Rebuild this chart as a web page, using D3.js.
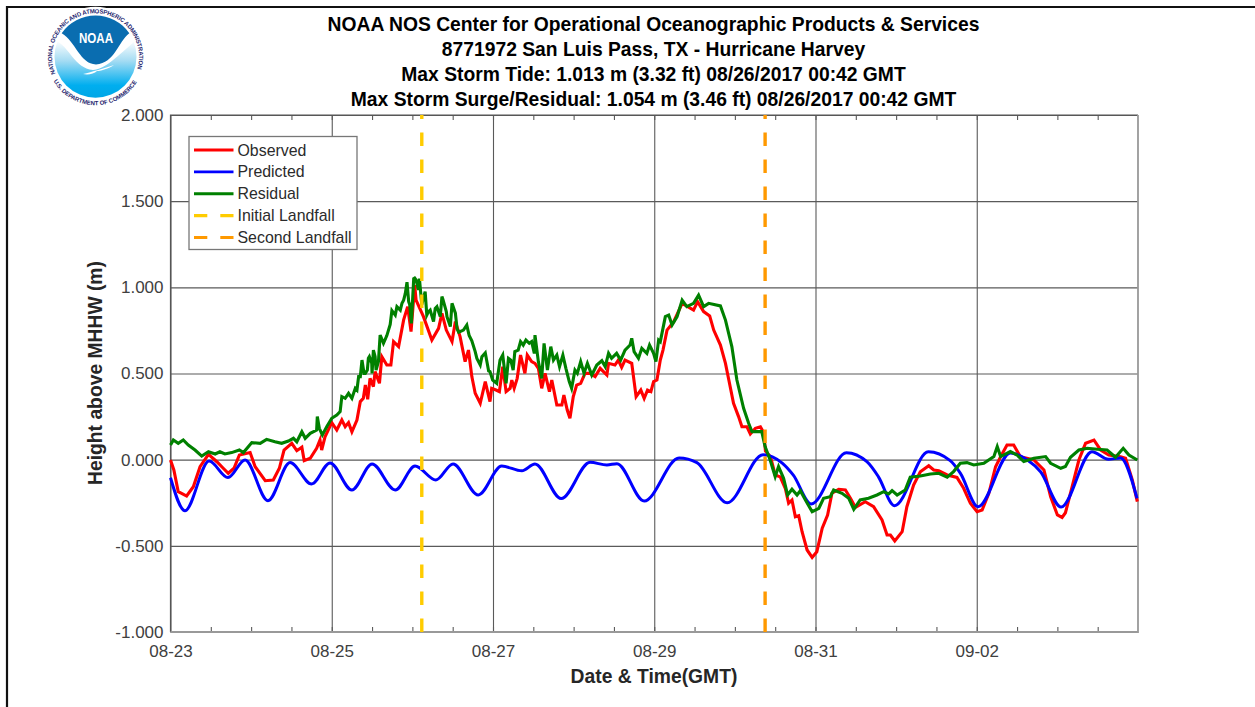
<!DOCTYPE html>
<html lang="en">
<head>
    <meta charset="UTF-8">
    <title>San Luis Pass - Hurricane Harvey</title>
    <script src="https://d3js.org/d3.v7.min.js"></script>
    <style>
        body { margin: 0; background: #fff; }
        text { font-family: "Liberation Sans", Arial, sans-serif; }
    </style>
</head>
<body>
<script>
    // [hours since 08-23 00:00 GMT, metres above MHHW]
    const observed = [
        [0,-.002],[1,-.06],[2.3,-.186],[3.3,-.195],[4.8,-.211],[6.8,-.157],[8.8,-.041],[11.3,.031],[13.8,-.012],[15.7,-.05],
        [17.2,-.079],[18.9,-.05],[20.5,.027],[23.7,.041],[25.2,-.041],[28.2,-.122],[30.6,-.118],[32.4,-.05],[33.8,.056],[36.1,.095],
        [37.6,.052],[39.1,.072],[39.8,-.006],[41.6,.008],[43.5,.066],[44.5,.114],[45,.056],[46,.133],[48,.215],[49.5,.172],
        [51,.23],[52,.191],[53,.215],[54,.162],[55.5,.23],[56.5,.337],[57.4,.356],[58,.433],[58.7,.35],[59.4,.472],
        [60.4,.424],[60.9,.511],[62.2,.443],[62.9,.598],[64.4,.549],[65.6,.549],[66.4,.685],[67.9,.656],[69.4,.811],[70.6,.888],
        [71.6,.743],[72.7,1.013],[73.1,.926],[75.3,.83],[77.8,.694],[79.8,.762],[80.8,.849],[82.1,.752],[83.8,.685],[84.8,.801],
        [86.2,.714],[87.7,.569],[88.7,.636],[89.7,.482],[90.7,.385],[92.2,.327],[93.7,.453],[95.1,.337],[95.6,.414],[96.9,.404],
        [97.9,.395],[98.9,.54],[99.9,.395],[101.1,.414],[101.6,.462],[102.3,.414],[103.2,.472],[104.2,.607],[105.5,.501],[106.2,.607],
        [107.5,.569],[108.5,.559],[109.5,.53],[110.5,.414],[111.5,.501],[112.8,.395],[113.5,.462],[115,.317],[116.5,.317],[117.1,.375],
        [118.1,.288],[118.9,.24],[119.9,.366],[120.9,.433],[122.1,.443],[123.4,.501],[124.9,.501],[126.4,.482],[127.9,.53],[129.9,.491],
        [130.4,.559],[132.3,.549],[133.3,.578],[134.3,.536],[135.3,.578],[137.3,.559],[138.6,.366],[140,.404],[141,.356],[142,.404],
        [143,.395],[143.8,.453],[144.8,.462],[145.8,.578],[146.6,.636],[147.8,.752],[149.8,.801],
        [152.3,.907],[155.7,.868],[156.9,.917],[158.7,.859],[160.5,.834],[161.7,.752],[163.7,.665],[165.2,.559],[166.2,.462],[167.6,.327],
        [169.1,.25],[170.1,.191],[171.6,.191],[172.6,.149],[174.1,.182],[175.6,.191],[176.6,.157],[177.1,.05],[178.6,.017],[180,-.089],
        [181.5,-.1],[183,-.166],[184,-.253],[185,-.234],[186,-.331],[187,-.325],[188,-.418],[189.5,-.524],[191,-.567],[192.4,-.534],
        [194,-.398],[195.6,-.321],[196.9,-.195],[198.9,-.172],[200.9,-.176],[202.4,-.224],[203.9,-.277],[206.8,-.244],[209.3,-.273],[211.8,-.35],
        [213.3,-.437],[214.3,-.437],[215.6,-.472],[217.8,-.418],[219.2,-.273],[221.2,-.147],[223.2,-.07],[225.7,-.035],[227.2,-.06],[228.7,-.064],
        [231.2,-.089],[234.1,-.103],[236.1,-.166],[238.1,-.253],[240.1,-.302],[241.6,-.292],[243.6,-.195],[245.6,-.041],[247.1,.017],[249,.085],
        [251,.085],[253,.017],[257,-.002],[260,-.06],[262,-.215],[264,-.321],[265.4,-.335],[266.4,-.308],[268.4,-.157],[270.4,-.002],
        [272.4,.095],[274.9,.114],[276.9,.056],[279.3,.027],[282.8,.017],[284.3,.008],[286.3,-.118],[287.8,-.244]
    ];

    const predicted = [
        [0,-.105],[4.3,-.296],[11.5,-.008],[17.1,-.104],[22.2,-.002],[29,-.238],[35.6,-.017],[42,-.141],[47.5,-.019],[54,-.176],
        [60,-.025],[66.9,-.176],[72.8,-.037],[79,-.118],[84.1,-.025],[91.6,-.205],[98.6,-.037],[104.6,-.065],[108.5,-.025],[116.3,-.226],
        [124.9,-.015],[129.9,-.031],[132.9,-.023],[141,-.24],[151.4,.01],[156.7,-.017],[165.7,-.25],[176.4,.029],[182.1,-.02],[185.4,-.09],
        [190.7,-.257],[201.2,.04],[207.3,-.012],[210.7,-.098],[215.5,-.267],[225.6,.046],[232.1,-.006],[235.1,-.078],[240.4,-.273],[250,.039],
        [255.1,-.002],[259,-.07],[265.1,-.275],[274.3,.046],[279.2,.002],[282.8,.01],[287.7,-.224]
    ];

    const residual = [
        [0,.085],[.85,.114],[2.3,.095],[3.8,.114],[5.3,.085],[7.3,.056],[9.3,.021],[11.3,.046],[13.3,.033],[14.7,.046],
        [16.2,.033],[18.2,.041],[20.5,.056],[21.7,.041],[24.2,.099],[26.7,.095],[28.6,.118],[31.1,.104],[33.1,.095],[35.1,.108],
        [36.6,.124],[37.6,.104],[39.1,.162],[40.1,.124],[41.6,.153],[43.5,.172],[43.7,.25],[44.3,.182],[45.2,.143],[46.5,.191],
        [48,.24],[49.5,.259],[50.5,.279],[51,.366],[52,.356],[53,.385],[54,.356],[55,.414],[55.5,.404],[56,.482],
        [56.5,.482],[57,.578],[57.6,.501],[58,.501],[58.6,.52],[58.9,.588],[59.2,.598],[59.9,.56],[60,.501],[60.4,.636],
        [60.9,.598],[61.2,.52],[61.9,.569],[62.4,.723],[62.6,.714],[63.4,.675],[64.4,.72],[65.4,.785],[65.9,.865],[66.9,.839],
        [67.4,.888],[68.4,.868],[68.9,.907],[69.4,.926],[69.9,.965],[70.4,1.03],[70.9,.917],[71.2,.9],[71.7,.791],[72.4,1.05],
        [72.7,1.054],[73.1,1.043],[73.8,.985],[74.1,1.05],[74.8,.9],[75.8,.975],[76.3,.839],[76.8,.859],[77.3,.868],[78.3,.801],
        [78.8,.878],[79.3,.888],[80.3,.83],[80.8,.946],[81.1,.93],[82.1,.859],[82.3,.83],[83.3,.772],[83.8,.907],[84.8,.85],
        [85.3,.76],[85.8,.74],[87.2,.752],[88.2,.781],[88.9,.72],[89.7,.69],[90.7,.627],[91.2,.588],[92.2,.55],[92.7,.598],
        [93.7,.62],[94.7,.515],[95.1,.511],[95.9,.462],[97.1,.443],[98.1,.578],[98.9,.607],[99.9,.443],[100.6,.588],[101.3,.578],
        [102,.52],[102.5,.627],[103.5,.636],[104.2,.685],[105,.665],[105.8,.694],[106.8,.675],[107.5,.685],[108.3,.617],[108.5,.723],
        [109.5,.569],[110.5,.472],[111.2,.675],[112.2,.52],[113.2,.656],[114,.578],[115,.607],[115.8,.54],[116.8,.607],[117.7,.53],
        [118.7,.453],[119.4,.414],[120.4,.52],[121.1,.501],[122.1,.569],[123.1,.501],[124.1,.559],[125.4,.491],[126.9,.549],[128.4,.574],
        [129.4,.54],[130.4,.617],[131.3,.588],[132.8,.617],[134,.578],[135.3,.636],[136.8,.665],[137.3,.704],[138,.627],[139.3,.588],
        [140.3,.646],[141.8,.617],[142.6,.665],[143.8,.617],[144.5,.569],[145.3,.694],[145.8,.685],
        [147.3,.83],[148.3,.839],[149.3,.781],[150.8,.83],[152.3,.926],[153.7,.888],[155.7,.907],[157.2,.955],[158.7,.888],[160.2,.907],
        [163.7,.892],[165.2,.81],[167.1,.656],[168.6,.462],[170.6,.298],[172.1,.211],[173.1,.162],[174.1,.163],[176,.163],[177,.076],
        [178.5,-.002],[180,-.098],[181,-.04],[182.5,-.108],[183.7,-.205],[185,-.172],[186.5,-.205],[187.5,-.18],[189,-.234],[191,-.302],
        [193,-.282],[194.4,-.224],[196.4,-.215],[197.4,-.176],[199.9,-.195],[201.9,-.224],[203.4,-.288],[205.3,-.234],[207.8,-.224],[210.3,-.205],
        [212.3,-.186],[213.8,-.199],[214.8,-.18],[216.3,-.205],[218.7,-.176],[220.2,-.102],[223.2,-.095],[226.2,-.083],[228.7,-.079],[231.2,-.102],
        [233.1,-.069],[235.1,-.021],[237.1,-.017],[239.1,-.031],[242.1,-.021],[245.1,.018],[246.1,.076],[247.1,.018],[250,.047],[252,.027],
        [254,-.011],[257,.008],[260.5,.018],[262,-.021],[265,-.05],[266.4,-.04],[267.9,.014],[270.4,.056],[272.9,.066],[275.9,.06],
        [278.8,.056],[281.3,.014],[283.6,.066],[285.3,.027],[287.8,-.002]
    ];

    const landfallHours = [74.8, 177];
    const legendLabels = ["Observed", "Predicted", "Residual", "Initial Landfall", "Second Landfall"];
    const yTicks = [-1, -.5, 0, .5, 1, 1.5, 2];
    const xMajorHours = [0, 48, 96, 144, 192, 240];
    const xMinorHours = d3.range(12, 288, 12);
    const titleLines = [
        "NOAA NOS Center for Operational Oceanographic Products & Services",
        "8771972 San Luis Pass, TX - Hurricane Harvey",
        "Max Storm Tide: 1.013 m (3.32 ft) 08/26/2017 00:42 GMT",
        "Max Storm Surge/Residual: 1.054 m (3.46 ft) 08/26/2017 00:42 GMT"
    ];

    const width  = 1255;
    const height = 707;
    const plotL = 170.5, plotR = 1138, plotT = 115, plotB = 632;

    const start = Date.UTC(2017, 7, 23);
    const toDate = h => new Date(start + h * 3600000);

    const colors = ["#ff0000", "#0000ff", "#008000", "#ffcc00", "#ff9900"];

    const scaleX = d3.scaleUtc().domain([toDate(0), toDate(288)]).range([plotL, plotR]);
    const scaleY = d3.scaleLinear().domain([-1, 2]).range([plotB, plotT]);

    const svg = d3.select("body").append("svg").attr("width", width).attr("height", height)
        .style("display", "block");

    // outer figure edge
    svg.append("path").attr("d", "M7,707V7H1255").attr("fill", "none").attr("stroke", "#111").attr("stroke-width", 2.2);

    // grid and tick labels come from the axes
    const yAxis = d3.axisLeft(scaleY).tickValues(yTicks).tickFormat(d => d3.format(".3f")(d).replace("\u2212", "-"))
        .tickSize(-(plotR - plotL)).tickPadding(7);
    const xAxis = d3.axisBottom(scaleX).tickValues(xMajorHours.map(toDate)).tickFormat(d3.utcFormat("%m-%d"))
        .tickSize(-(plotB - plotT)).tickPadding(13);
    const xMinorB = d3.axisBottom(scaleX).tickValues(xMinorHours.map(toDate)).tickFormat(() => "").tickSize(-5);
    const xMinorT = d3.axisTop(scaleX).tickValues(xMinorHours.map(toDate)).tickFormat(() => "").tickSize(-5);

    const axes = [
        svg.append("g").attr("transform", "translate(" + [plotL, 0] + ")").call(yAxis),
        svg.append("g").attr("transform", "translate(" + [0, plotB] + ")").call(xAxis),
        svg.append("g").attr("transform", "translate(" + [0, plotB] + ")").call(xMinorB),
        svg.append("g").attr("transform", "translate(" + [0, plotT] + ")").call(xMinorT)
    ];
    axes.forEach(g => {
        g.select(".domain").remove();
        g.selectAll("line").attr("stroke", "#5a5a5a").attr("stroke-width", 1.1);
        g.selectAll("text").attr("fill", "#404040").style("font-size", "17px").style("font-family", '"Liberation Sans", Arial, sans-serif');
    });

    // plot box: dark on top and left, lighter and thicker on bottom and right
    svg.append("path").attr("d", `M${plotL},${plotB}V${plotT}H${plotR}`).attr("fill", "none").attr("stroke", "#555").attr("stroke-width", 1.2);
    svg.append("path").attr("d", `M${plotL},${plotB}H${plotR}V${plotT}`).attr("fill", "none").attr("stroke", "#999").attr("stroke-width", 1.8);

    const line = d3.line().x(d => scaleX(toDate(d[0]))).y(d => scaleY(d[1]));
    const smooth = d3.line().curve(d3.curveMonotoneX).x(d => scaleX(toDate(d[0]))).y(d => scaleY(d[1]));

    const plot = svg.append("g");
    plot.append("path").attr("d", line(observed)).attr("fill", "none").attr("stroke", colors[0]).attr("stroke-width", 3.1);
    plot.append("path").attr("d", smooth(predicted)).attr("fill", "none").attr("stroke", colors[1]).attr("stroke-width", 3);
    plot.append("path").attr("d", line(residual)).attr("fill", "none").attr("stroke", colors[2]).attr("stroke-width", 3.1);

    // landfall lines, dash pattern starts from the bottom
    landfallHours.forEach((h, i) => {
        plot.append("line")
            .attr("x1", scaleX(toDate(h))).attr("x2", scaleX(toDate(h)))
            .attr("y1", scaleY(-1)).attr("y2", scaleY(2))
            .attr("stroke", colors[3 + i]).attr("stroke-width", 3.4).attr("stroke-dasharray", "13.5 13.5");
    });

    // legend
    const legend = svg.append("g");
    legend.append("rect").attr("x", 189).attr("y", 136.5).attr("width", 168).attr("height", 113)
        .attr("fill", "#fff").attr("stroke", "#777").attr("stroke-width", 1.3);
    const legendY = d3.scalePoint().domain(legendLabels).range([150, 237.5]);
    legendLabels.forEach((name, i) => {
        legend.append("line").attr("x1", 194).attr("x2", 233.5).attr("y1", legendY(name)).attr("y2", legendY(name))
            .attr("stroke", colors[i]).attr("stroke-width", i > 2 ? 3.2 : 2.8)
            .attr("stroke-dasharray", i > 2 ? "13.3 13" : null);
        legend.append("text").attr("x", 237.5).attr("y", legendY(name)).attr("dy", ".35em")
            .attr("fill", "#2b2b2b").style("font-size", "15.9px").text(name);
    });

    // titles
    const titleY = [31, 56, 81, 105.5];
    titleLines.forEach((t, i) => {
        svg.append("text").attr("x", 653.5).attr("y", titleY[i]).attr("text-anchor", "middle")
            .attr("fill", "#000").style("font-size", "19.3px").style("font-weight", "bold").text(t);
    });
    svg.append("text").attr("x", 654).attr("y", 683).attr("text-anchor", "middle")
        .attr("fill", "#262626").style("font-size", "19.3px").style("font-weight", "bold").text("Date & Time(GMT)");
    svg.append("text").attr("transform", "translate(102,373) rotate(-90)").attr("text-anchor", "middle")
        .attr("fill", "#262626").style("font-size", "19.3px").style("font-weight", "bold").text("Height above MHHW (m)");

    // NOAA seal
    const cx = 95.5, cy = 56.7;
    const defs = svg.append("defs");
    const sky = defs.append("linearGradient").attr("id", "sky").attr("x1", 0).attr("x2", 0).attr("y1", 0).attr("y2", 1);
    sky.append("stop").attr("offset", "0.3").attr("stop-color", "#ffffff");
    sky.append("stop").attr("offset", "0.55").attr("stop-color", "#a5dcf3");
    sky.append("stop").attr("offset", "0.85").attr("stop-color", "#00aeef");
    sky.append("stop").attr("offset", "1").attr("stop-color", "#00a6e6");

    const seal = svg.append("g");
    seal.append("circle").attr("cx", cx).attr("cy", cy).attr("r", 50).attr("fill", "#fff");
    seal.append("circle").attr("cx", cx).attr("cy", cy).attr("r", 41).attr("fill", "url(#sky)");
    // white wings and tail
    seal.append("path").attr("fill", "#fff")
        .attr("d", "M55,40 C70,47 74,68 93,70 C104,70 118,56 136,40 L132,33 L60,33 Z");
    seal.append("path").attr("fill", "#fff")
        .attr("d", "M83,74 C92,72 104,68 114,65 C108,69 100,71 97,71 C94,74 88,75 83,74 Z");
    seal.append("path").attr("fill", "#0a6db0")
        .attr("d", "M61.7,33.3 A41,41 0 0 1 129.3,33.3 C118,42 115,63 96,64.5 C80,64 76,42 61.7,33.3 Z");
    seal.append("text").attr("x", cx + .5).attr("y", 43).attr("text-anchor", "middle").attr("fill", "#fff")
        .attr("textLength", 34).attr("lengthAdjust", "spacingAndGlyphs")
        .style("font-size", "14px").style("font-weight", "bold").text("NOAA");

    const ringPoint = (r, deg) => {
        const a = deg * Math.PI / 180;
        return [cx + r * Math.sin(a), cy - r * Math.cos(a)];
    };
    const upper = [ringPoint(43.5, -113), ringPoint(43.5, 108)];
    const lower = [ringPoint(48.5, -120), ringPoint(48.5, 120)];
    defs.append("path").attr("id", "ringTop").attr("d", `M${upper[0]} A43.5,43.5 0 1 1 ${upper[1]}`);
    defs.append("path").attr("id", "ringBottom").attr("d", `M${lower[0]} A48.5,48.5 0 0 0 ${lower[1]}`);
    const ring = [["#ringTop", "NATIONAL OCEANIC AND ATMOSPHERIC ADMINISTRATION", 166], ["#ringBottom", "U.S. DEPARTMENT OF COMMERCE", 100]];
    ring.forEach(r => {
        seal.append("text").attr("fill", "#26266e").style("font-size", "6px").style("font-weight", "bold")
            .append("textPath").attr("href", r[0]).attr("textLength", r[2]).text(r[1]);
    });
</script>
</body>
</html>
